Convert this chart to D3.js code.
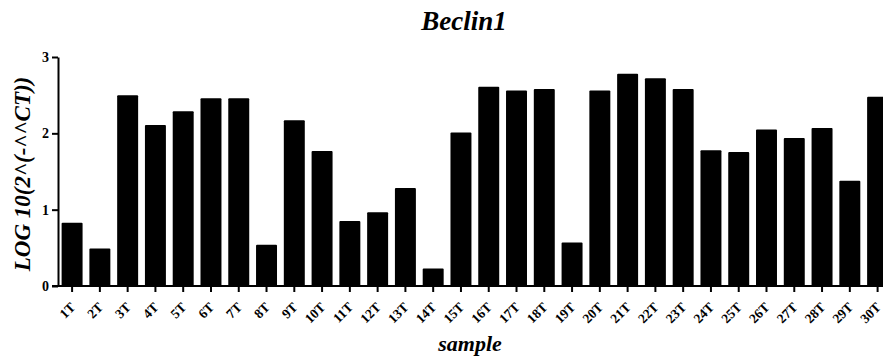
<html>
<head>
<script src="https://d3js.org/d3.v7.min.js"></script>
<style>
  body { margin: 0; background: #fff; }
  text { font-family: "Liberation Serif", "Times New Roman", serif; font-weight: bold; }
</style>
</head>
<body>
<div id="chart"></div>
<script>
// data
var samples = ["1T","2T","3T","4T","5T","6T","7T","8T","9T","10T",
               "11T","12T","13T","14T","15T","16T","17T","18T","19T","20T",
               "21T","22T","23T","24T","25T","26T","27T","28T","29T","30T"];
var values = [0.83, 0.49, 2.50, 2.11, 2.29, 2.46, 2.46, 0.54, 2.17, 1.77,
              0.85, 0.965, 1.285, 0.23, 2.01, 2.61, 2.56, 2.58, 0.57, 2.56,
              2.78, 2.72, 2.58, 1.78, 1.755, 2.05, 1.94, 2.07, 1.38, 2.48];
var yTicks = [0, 1, 2, 3];

var width = 883, height = 358;
var plotLeft = 58, plotBottom = 286, plotTop = 57;

var svg = d3.select("#chart").append("svg")
  .attr("width", width)
  .attr("height", height);

// band runs past the right edge, like the source picture
var x = d3.scaleBand()
  .domain(samples)
  .range([plotLeft, plotLeft + 27.79 * samples.length])
  .paddingInner(0.245)
  .paddingOuter(0.13);

var y = d3.scaleLinear()
  .domain([0, 3])
  .range([plotBottom, plotTop]);

// bars
svg.selectAll("rect.bar")
  .data(values)
  .enter()
  .append("rect")
  .attr("class", "bar")
  .attr("x", function (d, i) { return x(samples[i]); })
  .attr("y", function (d) { return y(d); })
  .attr("width", x.bandwidth())
  .attr("height", function (d) { return plotBottom - y(d); })
  .attr("rx", 1)
  .style("fill", "#000");

// y axis
var yAxis = svg.append("g")
  .attr("transform", "translate(" + plotLeft + ",0)")
  .call(d3.axisLeft(y).tickValues(yTicks).tickFormat(d3.format("d")).tickSize(6).tickPadding(3).tickSizeOuter(0));
yAxis.select(".domain").attr("stroke-width", 2);
yAxis.selectAll(".tick line").attr("stroke-width", 2);
yAxis.selectAll("text").style("font-size", "14px").style("font-weight", "bold")
  .style("font-family", "'Liberation Serif', serif");

// x axis
var xAxis = svg.append("g")
  .attr("transform", "translate(0," + plotBottom + ")")
  .call(d3.axisBottom(x).tickSize(6).tickSizeOuter(0));
xAxis.select(".domain").attr("stroke-width", 2)
  .attr("d", "M" + (plotLeft - 6) + ",0H" + width);
xAxis.selectAll(".tick line").attr("stroke-width", 2);
xAxis.selectAll("text")
  .style("font-size", "13.5px").style("font-weight", "bold")
  .style("font-family", "'Liberation Serif', serif")
  .attr("y", 0).attr("dy", 0)
  .attr("text-anchor", "end")
  .attr("transform", "translate(4,22) rotate(-45)");

// titles
svg.append("text")
  .attr("x", 464).attr("y", 30)
  .attr("text-anchor", "middle")
  .style("font-size", "27px").style("font-style", "italic")
  .text("Beclin1");

svg.append("text")
  .attr("x", 470).attr("y", 351)
  .attr("text-anchor", "middle")
  .style("font-size", "22px").style("font-style", "italic")
  .text("sample");

svg.append("text")
  .attr("transform", "translate(30,174) rotate(-90)")
  .attr("text-anchor", "middle")
  .style("font-size", "23px").style("font-style", "italic")
  .text("LOG 10(2^(-^^CT))");
</script>
</body>
</html>
